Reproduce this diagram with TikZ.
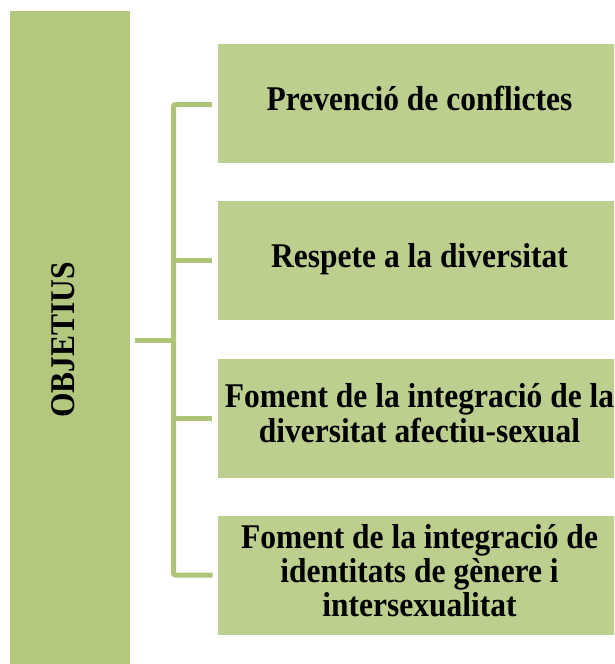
\documentclass[tikz,border=0pt]{standalone}
\usepackage{graphicx}
\usepackage{fontspec}
\setmainfont{Liberation Serif}
\definecolor{barcol}{RGB}{179,200,126}
\definecolor{boxcol}{RGB}{189,207,143}
\definecolor{linecol}{RGB}{174,197,119}
\newcommand\tstack[1]{\scalebox{1}[1.1]{\begin{tabular}{@{}c@{}}#1\end{tabular}}}
\begin{document}
\begin{tikzpicture}[x=1pt,y=-1pt,
  bar/.style={fill=barcol,draw=none,inner sep=0pt,anchor=north west,minimum width=120pt,minimum height=653pt},
  obox/.style={fill=boxcol,draw=none,inner sep=0pt,minimum width=403pt,minimum height=119pt,
    font=\fontsize{31.5}{30}\selectfont\bfseries,align=center},
  conn/.style={draw=linecol,line width=5pt}]
\useasboundingbox (0,0) rectangle (614,664);
\clip (0,0) rectangle (614,664);
\node[bar] (bar) at (10,11) {};
\node[rotate=90,font=\fontsize{31.5}{30}\selectfont\bfseries] (title) at (68,340) {\tstack{OBJETIUS}};
\node[obox] (b1) at (419.5,103.5) {\tstack{Prevenció de conflictes}};
\node[obox] (b2) at (419.5,260.5) {\tstack{Respete a la diversitat}};
\node[obox] (b3) at (419.5,418) {\tstack{Foment de la integració de la\\diversitat afectiu-sexual}};
\node[obox] (b4) at (419.5,575) {\tstack{Foment de la integració de\\identitats de gènere i\\intersexualitat}};
\coordinate (hub) at (173.5,340);
\coordinate (top) at (173.5,104.5);
\coordinate (bot) at (173.5,575);
\draw[conn] ([xshift=5pt]bar.east |- hub) -- (hub);
\draw[conn,rounded corners=2pt] (b1.west |- top) ++(-6,0) -- (top) -- (bot) -- ++(39,0);
\draw[conn] (hub |- b2.west) -- ([xshift=-6pt]b2.west);
\draw[conn] (hub |- b3.west) -- ([xshift=-6pt]b3.west);
\end{tikzpicture}
\end{document}
